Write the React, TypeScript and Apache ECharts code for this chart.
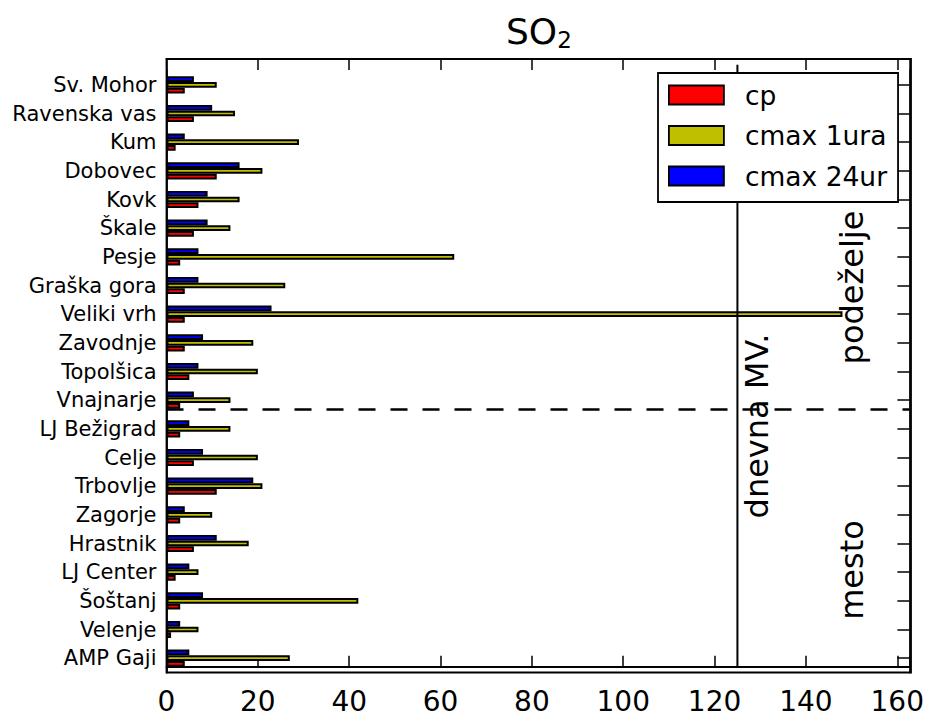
import React, { useEffect, useRef } from 'react';
import * as echarts from 'echarts';

// Categories listed from bottom to top
const categories = [
  'AMP Gaji', 'Velenje', 'Šoštanj', 'LJ Center', 'Hrastnik', 'Zagorje', 'Trbovlje',
  'Celje', 'LJ Bežigrad', 'Vnajnarje', 'Topolšica', 'Zavodnje', 'Veliki vrh',
  'Graška gora', 'Pesje', 'Škale', 'Kovk', 'Dobovec', 'Kum', 'Ravenska vas', 'Sv. Mohor',
];
const cp = [4, 1, 3, 2, 6, 3, 11, 6, 3, 3, 5, 4, 4, 4, 3, 6, 7, 11, 2, 6, 4];
const cmax1ura = [27, 7, 42, 7, 18, 10, 21, 20, 14, 14, 20, 19, 148, 26, 63, 14, 16, 21, 29, 15, 11];
const cmax24ur = [5, 3, 8, 5, 11, 4, 19, 8, 5, 6, 7, 8, 23, 7, 7, 9, 9, 16, 4, 10, 6];
const seriesNames = ['cp', 'cmax 1ura', 'cmax 24ur'];
const xTicks = [0, 20, 40, 60, 80, 100, 120, 140, 160];

// Annotations
const dailyLimit = 125; // dnevna MV.
const limitSpan = [0, 21];
const regionSplit = 9; // between mesto and podeželje

const FONT = 'DejaVu Sans';

export default function App() {
  const ref = useRef<HTMLDivElement>(null);

  useEffect(() => {
    if (!ref.current) return;
    const chart = echarts.init(ref.current, undefined, { renderer: 'svg' });
    const xMax = 162.65;
    const gridLeft = 166.5;
    const gridRight = 911;
    const gridTop = 70.5;
    const gridBottom = 672.5;
    const frameTop = 59;

    const barCommon = {
      type: 'bar',
      barWidth: '20%',
      barGap: '0%',
      xAxisIndex: 0,
      yAxisIndex: 0,
    };

    const rotText = (text: string, x: number, y: number) => ({
      type: 'text',
      x,
      y,
      rotation: Math.PI / 2,
      z: 10,
      style: {
        text,
        fontFamily: FONT,
        fontSize: 32,
        fill: '#000',
        align: 'center',
        verticalAlign: 'middle',
        textAlign: 'center',
        textVerticalAlign: 'middle',
      },
    });

    chart.setOption({
      animation: false,
      backgroundColor: '#fff',
      title: {
        text: 'SO{sub|2}',
        left: 506,
        top: 11,
        padding: 0,
        textStyle: {
          fontFamily: FONT,
          fontSize: 36,
          fontWeight: 'normal',
          color: '#000',
          lineHeight: 40,
          rich: {
            sub: { fontFamily: FONT, fontSize: 23, lineHeight: 14, verticalAlign: 'bottom', color: '#000' },
          },
        },
      },
      grid: {
        left: gridLeft,
        top: gridTop,
        width: gridRight - gridLeft,
        height: gridBottom - gridTop,
        containLabel: false,
      },
      legend: {
        data: seriesNames,
        orient: 'vertical',
        left: 658,
        top: 73,
        itemWidth: 55,
        itemHeight: 19,
        itemGap: 10.5,
        padding: [7, 11, 11, 10],
        backgroundColor: '#fff',
        borderColor: '#000',
        borderWidth: 1.8,
        borderRadius: 0,
        icon: 'rect',
        selectedMode: false,
        itemStyle: { borderColor: '#000', borderWidth: 1.8 },
        textStyle: { fontFamily: FONT, fontSize: 26.5, color: '#000', lineHeight: 30, padding: [0, 0, 0, 16] },
        z: 20,
      },
      xAxis: [
        {
          type: 'value',
          position: 'bottom',
          min: 0,
          max: xMax,
          interval: 20,
          splitLine: { show: false },
          axisLine: { show: true, lineStyle: { color: '#000', width: 1.8 } },
          axisTick: { show: true, inside: true, length: 11, lineStyle: { color: '#000', width: 1.5 } },
          axisLabel: {
            fontFamily: FONT,
            fontSize: 28,
            color: '#000',
            verticalAlign: 'middle',
            margin: 28.5,
            formatter: (v: number) => (xTicks.indexOf(v) >= 0 ? String(v) : ''),
          },
        },
        {
          type: 'value',
          position: 'top',
          offset: gridTop - frameTop,
          min: 0,
          max: xMax,
          interval: 20,
          splitLine: { show: false },
          axisLine: { show: true, lineStyle: { color: '#000', width: 1.8 } },
          axisTick: { show: true, inside: true, length: 11, lineStyle: { color: '#000', width: 1.5 } },
          axisLabel: { show: false },
        },
      ],
      yAxis: [
        {
          type: 'category',
          position: 'left',
          data: categories,
          axisLine: { show: true, lineStyle: { color: '#000', width: 1.8 } },
          axisTick: { show: true, inside: true, alignWithLabel: true, length: 11, lineStyle: { color: '#000', width: 1.5 } },
          axisLabel: {
            fontFamily: FONT,
            fontSize: 21,
            color: '#000',
            margin: 10,
            padding: [7, 0, 0, 0],
          },
        },
        {
          type: 'value',
          show: false,
          min: -0.2,
          max: 20.8,
        },
        {
          type: 'category',
          position: 'right',
          data: categories,
          axisLine: { show: true, lineStyle: { color: '#000', width: 1.8 } },
          axisTick: { show: true, inside: true, alignWithLabel: true, length: 12, lineStyle: { color: '#000', width: 1.5 } },
          axisLabel: { show: false },
        },
      ],
      graphic: [
        {
          type: 'rect',
          silent: true,
          z: 10,
          shape: { x: gridLeft, y: frameTop, width: gridRight - gridLeft, height: gridBottom - frameTop },
          style: { fill: 'none', stroke: '#000', lineWidth: 1.8 },
        },
        rotText('dnevna MV.', 757, 426),
        rotText('podeželje', 852, 287.5),
        rotText('mesto', 852, 570),
      ],
      series: [
        {
          ...barCommon,
          name: seriesNames[2],
          data: cmax24ur,
          itemStyle: { color: '#0000ff', borderColor: '#000', borderWidth: 2 },
        },
        {
          ...barCommon,
          name: seriesNames[1],
          data: cmax1ura,
          itemStyle: { color: '#bfbf00', borderColor: '#000', borderWidth: 2 },
        },
        {
          ...barCommon,
          name: seriesNames[0],
          data: cp,
          itemStyle: { color: '#ff0000', borderColor: '#000', borderWidth: 2 },
        },
        {
          type: 'line',
          name: 'dnevna MV.',
          xAxisIndex: 0,
          yAxisIndex: 1,
          data: limitSpan.map((y) => [dailyLimit, y]),
          symbol: 'none',
          clip: false,
          silent: true,
          z: 5,
          lineStyle: { color: '#000', width: 2 },
          markLine: {
            silent: true,
            symbol: 'none',
            label: { show: false },
            lineStyle: { color: '#000', width: 2.5, type: [17, 15] },
            data: [{ yAxis: regionSplit }],
          },
        },
      ],
    });

    return () => chart.dispose();
  }, []);

  return (
    <div
      ref={ref}
      style={{ position: 'absolute', left: 0, top: 0, width: 927, height: 718, background: '#fff' }}
    />
  );
}
